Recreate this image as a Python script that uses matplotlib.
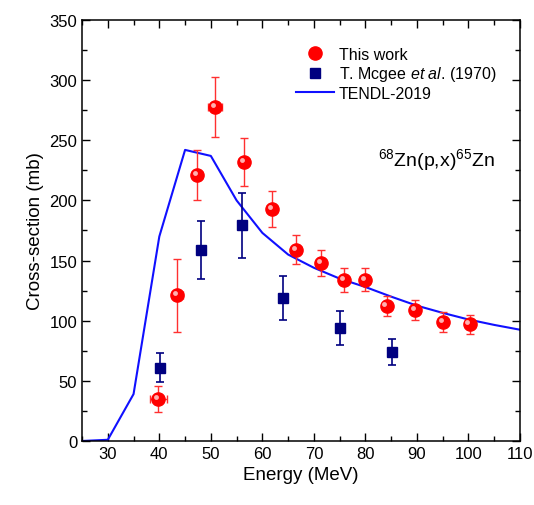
import matplotlib
matplotlib.use("Agg")
import matplotlib.pyplot as plt
import matplotlib.transforms as mtransforms
from matplotlib.lines import Line2D
from matplotlib.ticker import MultipleLocator

plt.rcParams["font.family"] = ["Liberation Sans", "DejaVu Sans"]
plt.rcParams["mathtext.fontset"] = "custom"
plt.rcParams["mathtext.rm"] = "Liberation Sans"
plt.rcParams["mathtext.it"] = "Liberation Sans:italic"

# This work
e_this = [39.8, 43.5, 47.3, 50.8, 56.4, 61.8, 66.6, 71.4, 75.8, 80.0, 84.1, 89.7, 95.1, 100.2]
e_this_err = [1.6, 1.0, 1.0, 1.3, 1.0, 0.9, 0.8, 0.7, 0.7, 0.6, 0.6, 0.5, 0.5, 0.5]
xs_this = [35, 121, 221, 278, 232, 193, 159, 148, 134, 134, 112, 109, 99, 97]
xs_this_err = [11, 30, 21, 25, 20, 15, 12, 10.5, 10, 9.5, 8.5, 8.5, 8, 8]

# T. Mcgee et al. (1970)
e_mcgee = [40.1, 48.1, 56.0, 64.1, 75.1, 85.1]
xs_mcgee = [61, 159, 179.5, 119, 94, 74]
xs_mcgee_err = [12, 24, 27, 18, 14, 11]

# TENDL-2019
e_tendl = [25, 30, 35, 40, 45, 50, 55, 60, 65, 70, 75, 80, 85, 90, 95, 100, 105, 110]
xs_tendl = [0, 1, 39, 170, 242, 237, 200, 173, 155, 144, 135, 128, 120, 112.5, 106.5, 101, 96.5, 92.5]

fig = plt.figure(figsize=(5.34, 5.06), dpi=100)
ax = fig.add_axes([0.1536, 0.1265, 0.8202, 0.832])

ax.plot(e_tendl, xs_tendl, color="#1010ff", lw=1.5, zorder=2)

ax.errorbar(e_mcgee, xs_mcgee, yerr=xs_mcgee_err, fmt="s", color="#000080",
            ms=7.5, elinewidth=1.2, capsize=3, capthick=1.2, zorder=3)

ax.errorbar(e_this, xs_this, xerr=e_this_err, yerr=xs_this_err, fmt="o",
            color="red", ecolor="#ff3030", ms=9.5, elinewidth=1.0, capsize=3,
            capthick=1.0, zorder=4)
# highlight for a sphere look
hl = ax.transData + mtransforms.ScaledTranslation(-1.5 / 72, 1.5 / 72, fig.dpi_scale_trans)
ax.plot(e_this, xs_this, "o", color="#ffb0b0", ms=3.5, mec="none", transform=hl, zorder=5)

ax.set_xlim(25, 110)
ax.set_ylim(0, 350)
ax.xaxis.set_major_locator(MultipleLocator(10))
ax.xaxis.set_minor_locator(MultipleLocator(5))
ax.yaxis.set_major_locator(MultipleLocator(50))
ax.yaxis.set_minor_locator(MultipleLocator(25))
ax.tick_params(which="both", direction="in", top=True, right=True, labelsize=12)
ax.tick_params(which="major", length=6, width=1)
ax.tick_params(which="minor", length=3.5, width=1)
for s in ax.spines.values():
    s.set_linewidth(1.1)

ax.set_xlabel("Energy (MeV)", fontsize=13.5)
ax.set_ylabel("Cross-section (mb)", fontsize=13.5)

handles = [
    Line2D([], [], ls="none", marker="o", color="red", ms=9.5),
    Line2D([], [], ls="none", marker="s", color="#000080", ms=7.5),
    Line2D([], [], color="#1010ff", lw=1.5),
]
labels = ["This work", "T. Mcgee $\\it{et\\ al}$. (1970)", "TENDL-2019"]
ax.legend(handles, labels, loc="upper left", bbox_to_anchor=(0.455, 0.97),
          frameon=False, fontsize=11.5, handlelength=2.4, handletextpad=0.3,
          labelspacing=0.15)

ax.text(0.675, 0.655, "$^{68}$Zn(p,x)$^{65}$Zn", transform=ax.transAxes, fontsize=14)

fig.savefig("out.png", dpi=100)
